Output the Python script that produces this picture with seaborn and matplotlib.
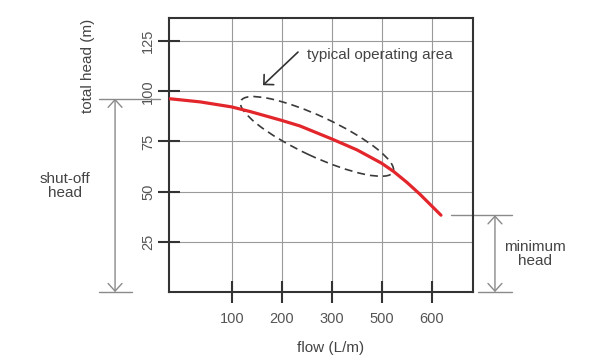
import numpy as np
import pandas as pd
import seaborn as sns
import matplotlib
matplotlib.use("Agg")
import matplotlib.pyplot as plt
from matplotlib.patches import Ellipse
from matplotlib.transforms import ScaledTranslation

# pump curve (flow position on axis, total head in m)
flow = [-26, 36, 99, 136, 199, 236, 299, 350, 399, 423, 450, 476, 518]
head = [96.3, 94.7, 92.2, 89.9, 85.5, 82.7, 76.3, 70.8, 64.2, 60.1, 54.6, 48.7, 38.3]

flow_ticks = [100, 200, 300, 400, 500]
flow_labels = ["100", "200", "300", "500", "600"]
head_ticks = [25, 50, 75, 100, 125]

# typical operating area (centre in data units)
area_center = (270, 77.5)

sns.set_style("white")
plt.rcParams["font.family"] = ["Liberation Sans", "DejaVu Sans"]

text_col = "#444444"
line_col = "#333333"
note_col = "#8a8a8a"
red = "#e3262b"

fig = plt.figure(figsize=(5.89, 3.58), dpi=100)
ax = fig.add_axes([0.287, 0.184, 0.516, 0.766])

df = pd.DataFrame({"flow": flow, "head": head})
sns.lineplot(data=df, x="flow", y="head", color=red, lw=2.3, ax=ax, zorder=4)

ax.set_xlim(-26, 582)
ax.set_ylim(0, 136.5)
ax.set_xticks(flow_ticks)
ax.set_xticklabels(flow_labels)
ax.set_yticks(head_ticks)
ax.set_yticklabels([str(v) for v in head_ticks])
ax.grid(True, color="#9a9a9a", lw=0.8)

for s in ax.spines.values():
    s.set_color(line_col)
    s.set_linewidth(1.5)

# seaborn's white style hides tick marks, bring them back
ax.tick_params(bottom=True, left=True, direction="inout", length=16, width=1.5,
               color=line_col, labelcolor="#555555", labelsize=10.5)
ax.tick_params(axis="x", pad=6.5)
ax.tick_params(axis="y", pad=2)
for lab in ax.get_yticklabels():
    lab.set_rotation(90)
    lab.set_va("center")

ax.set_xlabel("flow (L/m)", fontsize=11, color=text_col, va="center")
ax.xaxis.set_label_coords(0.533, -0.204)
ax.set_ylabel("total head (m)", fontsize=11, color=text_col, va="center")
ax.yaxis.set_label_coords(-0.266, 0.825)

# dashed ellipse, sized in inches around a data-space centre
ell = Ellipse((0, 0), width=1.68, height=0.40, angle=-25, fill=False,
              edgecolor="#3a3a3a", lw=1.2, linestyle=(0, (4.8, 3.0)),
              transform=fig.dpi_scale_trans + ScaledTranslation(*area_center, ax.transData),
              zorder=3)
ax.add_patch(ell)

ax.annotate("", xy=(162, 103), xytext=(232, 119.5),
            arrowprops=dict(arrowstyle="->, head_length=0.5, head_width=0.5",
                            color=line_col, lw=1.2, shrinkA=0, shrinkB=0))
ax.text(250, 118, "typical operating area", fontsize=11, color=text_col,
        va="center", ha="left")

# shut-off head marker
shut = head[0]
ax.plot([-166, -44], [shut, shut], color=note_col, lw=1, clip_on=False)
ax.plot([-166, -100], [0, 0], color=note_col, lw=1, clip_on=False)
ax.annotate("", xy=(-134, shut), xytext=(-134, 0), annotation_clip=False,
            arrowprops=dict(arrowstyle="<->, head_length=0.55, head_width=0.5",
                            color=note_col, lw=1, shrinkA=0, shrinkB=0))
ax.text(-234, 53, "shut-off\nhead", fontsize=11, color=text_col,
        ha="center", va="center", linespacing=1.0, clip_on=False)

# minimum head marker
mini = head[-1]
ax.plot([538, 660], [mini, mini], color=note_col, lw=1, clip_on=False)
ax.plot([592, 660], [0, 0], color=note_col, lw=1, clip_on=False)
ax.annotate("", xy=(626, mini), xytext=(626, 0), annotation_clip=False,
            arrowprops=dict(arrowstyle="<->, head_length=0.55, head_width=0.5",
                            color=note_col, lw=1, shrinkA=0, shrinkB=0))
ax.text(706, 19, "minimum\nhead", fontsize=11, color=text_col,
        ha="center", va="center", linespacing=1.0, clip_on=False)

fig.savefig("out.png", dpi=100)
